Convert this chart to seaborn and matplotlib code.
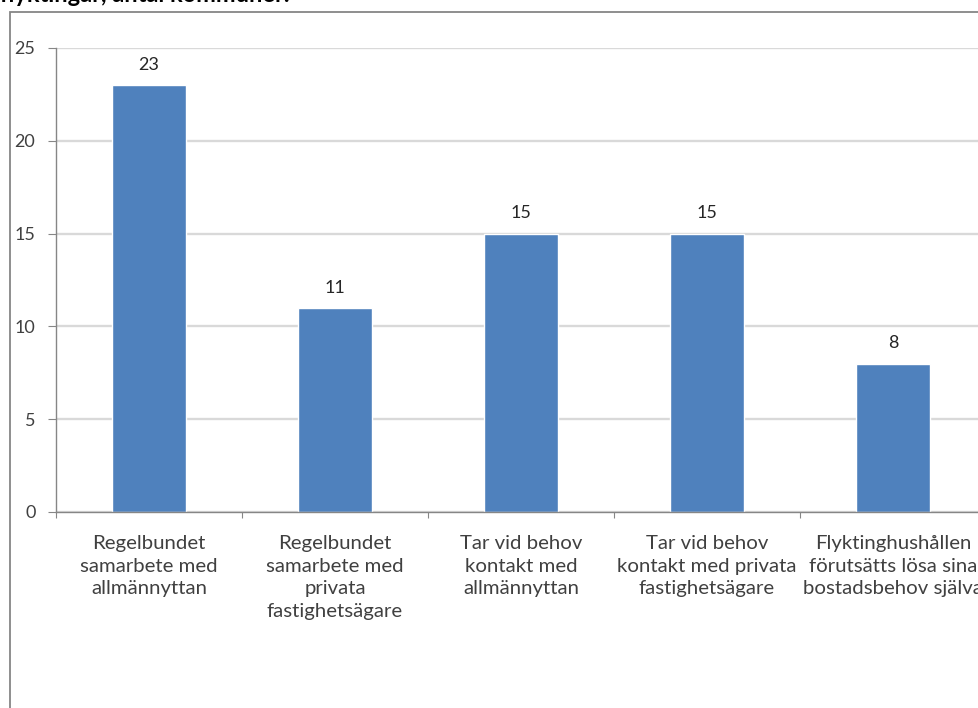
import matplotlib
matplotlib.use("Agg")
import matplotlib.pyplot as plt
from matplotlib.patches import Rectangle
from matplotlib.ticker import FixedLocator
import seaborn as sns
import pandas as pd

# Survey answers: number of municipalities per housing approach
categories = [
    "Regelbundet\nsamarbete med\nallmännyttan",
    "Regelbundet\nsamarbete med\nprivata\nfastighetsägare",
    "Tar vid behov\nkontakt med\nallmännyttan",
    "Tar vid behov\nkontakt med privata\nfastighetsägare",
    "Flyktinghushållen\nförutsätts lösa sina\nbostadsbehov själva",
]
counts = [23, 11, 15, 15, 8]
y_ticks = [0, 5, 10, 15, 20, 25]
title_text = "flyktingar, antal kommuner."

sns.set_theme(style="white")
plt.rcParams["font.family"] = ["Lato", "DejaVu Sans"]

W, H = 979, 708
fig = plt.figure(figsize=(W / 100, H / 100), dpi=100)

# plot area in pixel terms
x0, x1 = 56, 986
y_top, y_bot = 48, 512
ax = fig.add_axes([x0 / W, 1 - y_bot / H, (x1 - x0) / W, (y_bot - y_top) / H])

df = pd.DataFrame({"kategori": categories, "antal": counts})
bar_color = "#4F81BD"
sns.barplot(data=df, x="kategori", y="antal", color=bar_color, saturation=1,
            width=0.4, ax=ax, zorder=3)

ax.set_xlim(-0.5, len(categories) - 0.5)
ax.set_ylim(0, 25)
ax.set_xlabel("")
ax.set_ylabel("")

ax.yaxis.set_major_locator(FixedLocator(y_ticks))
ax.set_yticklabels([str(t) for t in y_ticks])
ax.grid(axis="y", color="#D9D9D9", linewidth=1.7, zorder=0)
ax.grid(axis="x", visible=False)

for side in ["top", "right"]:
    ax.spines[side].set_visible(False)
for side in ["left", "bottom"]:
    ax.spines[side].set_color("#868686")
    ax.spines[side].set_linewidth(1.0)
    ax.spines[side].set_zorder(4)

text_color = "#404040"
ax.tick_params(axis="y", which="major", direction="out", length=5.8, width=0.8,
               color="#868686", pad=9, labelsize=13, labelcolor=text_color, left=True)
ax.tick_params(axis="x", which="major", length=0, pad=16.5, labelsize=14.7,
               labelcolor=text_color, bottom=True)
for lbl in ax.get_xticklabels():
    lbl.set_linespacing(1.4)

# category boundary tick marks
ax.xaxis.set_minor_locator(FixedLocator([i - 0.5 for i in range(len(categories) + 1)]))
ax.tick_params(axis="x", which="minor", direction="out", length=4.3, width=0.8,
               color="#868686", bottom=True)

# value labels above the bars
for i, v in enumerate(counts):
    ax.annotate(str(v), xy=(i, v), xytext=(0, 11), textcoords="offset points",
                ha="center", va="baseline", fontsize=13, color="#262626")

# outer chart frame
fig.patches.append(Rectangle((10 / W, -0.2), 1.2, 1 - 12 / H + 0.2,
                             transform=fig.transFigure, fill=False,
                             edgecolor="#868686", linewidth=1.3))

fig.text(0.0, 1 - 1.5 / H, title_text, ha="left", va="baseline",
         fontsize=17, fontweight="bold", color="#000000")

fig.savefig("out.png", dpi=100)
